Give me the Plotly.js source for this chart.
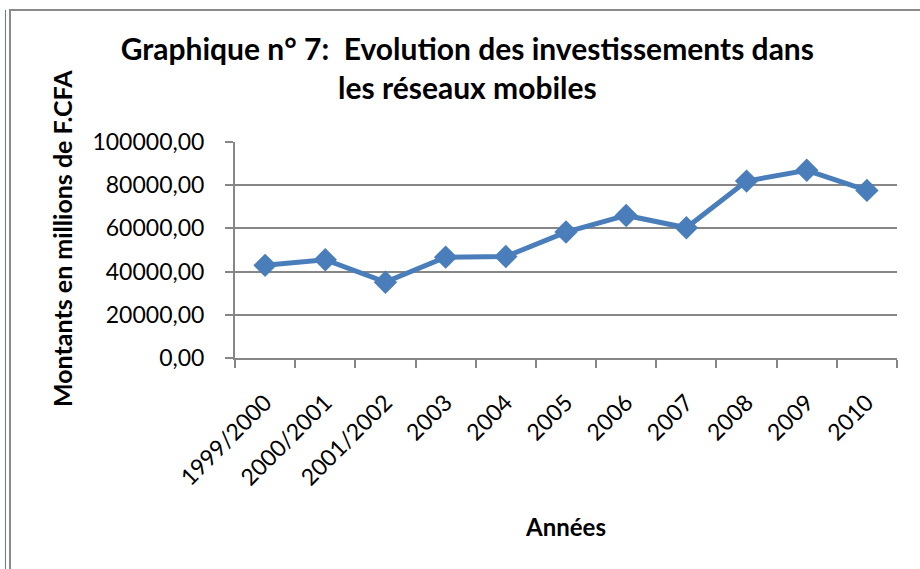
<!DOCTYPE html>
<html>
<head>
<meta charset="utf-8">
<script src="https://cdn.plot.ly/plotly-3.0.1.min.js"></script>
<style>
  html, body { margin: 0; padding: 0; background: #ffffff; }
  #frameBlue { position: absolute; left: 5px; top: 10px; width: 1px; height: 559px; background: #4f81bd; }
  #frameGray { position: absolute; left: 9px; top: 9px; width: 911px; height: 560px;
               border-left: 2px solid #8a8a8a; border-top: 2px solid #8a8a8a; box-sizing: border-box; }
  #chart { position: absolute; left: 0; top: 0; width: 920px; height: 569px; }
</style>
</head>
<body>
<div id="frameBlue"></div>
<div id="frameGray"></div>
<div id="chart"></div>
<script>
// Montants en millions de F.CFA, par année
var annees = ['1999/2000', '2000/2001', '2001/2002', '2003', '2004', '2005',
              '2006', '2007', '2008', '2009', '2010'];
var montants = [42900, 45500, 35100, 46700, 47000, 58300,
                66000, 60300, 81900, 86900, 77600];
var yTicks = [0, 20000, 40000, 60000, 80000, 100000];

var fontFam = 'Lato, "Open Sans", sans-serif';

var trace1 = {
    x: annees,
    y: montants,
    type: 'scatter',
    mode: 'lines+markers',
    line: { color: '#4a7ebb', width: 5 },
    marker: { symbol: 'diamond', size: 18, color: '#4a7ebb' },
    hoverinfo: 'x+y'
};

var layout = {
    width: 920,
    height: 569,
    margin: { l: 235, r: 23, t: 142, b: 211, pad: 0 },
    paper_bgcolor: 'rgba(0,0,0,0)',
    plot_bgcolor: 'rgba(0,0,0,0)',
    separators: ', ',
    showlegend: false,
    font: { family: fontFam, color: '#000000' },
    title: {
        text: '<b>Graphique n° 7:  Evolution des investissements dans<br>les réseaux mobiles</b>',
        font: { family: fontFam, size: 30, color: '#000000' },
        xref: 'container',
        x: 0.508,
        xanchor: 'center',
        yref: 'container',
        y: 1 - 60 / 569,
        yanchor: 'top'
    },
    xaxis: {
        type: 'category',
        tickmode: 'array',
        tickvals: annees,
        ticktext: annees,
        tickangle: -45,
        tickson: 'boundaries',
        ticks: 'outside',
        ticklen: 8,
        tickwidth: 2,
        tickcolor: '#868686',
        showline: true,
        linecolor: '#868686',
        linewidth: 2,
        showgrid: false,
        zeroline: false,
        ticklabelstandoff: 20,
        tickfont: { family: fontFam, size: 23, color: '#000000' },
        range: [-0.5, annees.length - 0.5],
        title: {
            text: '<b>Années</b>',
            font: { family: fontFam, size: 24, color: '#000000' },
            standoff: 30
        }
    },
    yaxis: {
        range: [0, 100000],
        tickmode: 'array',
        tickvals: yTicks,
        tickformat: '.2f',
        ticks: 'outside',
        ticklen: 8,
        tickwidth: 2,
        tickcolor: '#868686',
        showline: true,
        linecolor: '#868686',
        linewidth: 2,
        showgrid: true,
        gridcolor: '#868686',
        gridwidth: 2,
        zeroline: false,
        ticklabelstandoff: 16,
        tickfont: { family: fontFam, size: 23, color: '#000000' }
    },
    annotations: [{
        text: '<b>Montants en millions de F.CFA</b>',
        font: { family: fontFam, size: 25, color: '#000000' },
        textangle: -90,
        xref: 'paper',
        yref: 'paper',
        x: (62 - 235) / 662,
        y: (358 - 239) / 216,
        xanchor: 'center',
        yanchor: 'middle',
        showarrow: false
    }]
};

Plotly.newPlot('chart', [trace1], layout, { displayModeBar: false, staticPlot: true });
</script>
</body>
</html>
